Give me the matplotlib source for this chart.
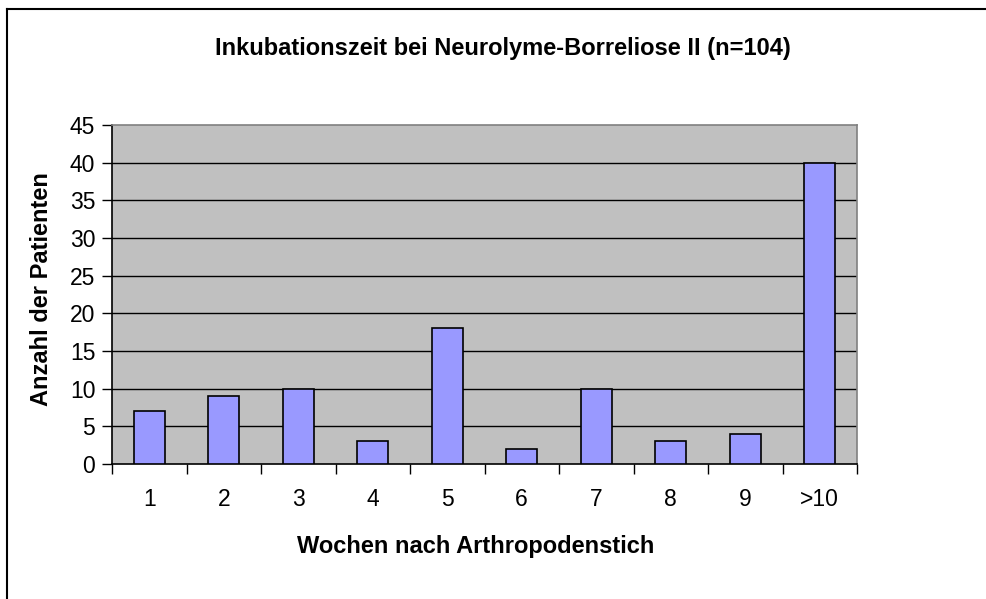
import matplotlib
matplotlib.use('Agg')
import matplotlib.pyplot as plt
from matplotlib.lines import Line2D
import numpy as np

# data
weeks = ['1', '2', '3', '4', '5', '6', '7', '8', '9', '>10']
patients = [7, 9, 10, 3, 18, 2, 10, 3, 4, 40]
yticks = [0, 5, 10, 15, 20, 25, 30, 35, 40, 45]

plt.rcParams['font.family'] = ['Liberation Sans', 'DejaVu Sans']

W, H = 986, 599
fig = plt.figure(figsize=(W / 100, H / 100), dpi=100)
fig.patch.set_facecolor('white')

# plot area in pixel coords of the reference
left, right, top, bottom = 112, 857, 125, 464
ax = fig.add_axes([left / W, 1 - bottom / H, (right - left) / W, (bottom - top) / H])
ax.set_facecolor('#C0C0C0')

x = np.arange(1, len(weeks) + 1)
ax.bar(x, patients, width=0.41, color='#9999FF', edgecolor='black', linewidth=1.2, zorder=3)

ax.set_xlim(0.5, len(weeks) + 0.5)
ax.set_ylim(0, 45)
ax.set_yticks(yticks)
ax.set_yticklabels([str(v) for v in yticks])
ax.set_xticks(x)
ax.set_xticklabels(weeks)
ax.set_xticks(np.arange(0.5, len(weeks) + 1, 1), minor=True)
ax.tick_params(axis='x', which='major', length=0, pad=17, labelsize=16.5)
ax.tick_params(axis='x', which='minor', length=7, width=1, direction='out', color='black')
ax.tick_params(axis='y', length=7, width=1, direction='out', pad=5, labelsize=16.5)

for v in yticks[1:-1]:
    ax.axhline(v, color='black', linewidth=1, zorder=1)

ax.spines['left'].set_color('black')
ax.spines['bottom'].set_color('black')
ax.spines['top'].set_color('#808080')
ax.spines['right'].set_color('#808080')
for s in ax.spines.values():
    s.set_linewidth(1.2)

# titles placed at the reference pixel positions
fig.text(503 / W, 1 - 48 / H, 'Inkubationszeit bei Neurolyme-Borreliose II (n=104)',
         ha='center', va='center', fontsize=17, fontweight='bold')
fig.text(476 / W, 1 - 547 / H, 'Wochen nach Arthropodenstich',
         ha='center', va='center', fontsize=17, fontweight='bold')
fig.text(42 / W, 1 - 289 / H, 'Anzahl der Patienten', rotation=90,
         ha='center', va='center', fontsize=17, fontweight='bold')

# chart border (only left and top edges visible in the reference)
fig.add_artist(Line2D([7 / W, 7 / W], [0, 1 - 9 / H], color='black', linewidth=1.5))
fig.add_artist(Line2D([7 / W, 1], [1 - 9 / H, 1 - 9 / H], color='black', linewidth=1.5))

fig.savefig('out.png', dpi=100)
